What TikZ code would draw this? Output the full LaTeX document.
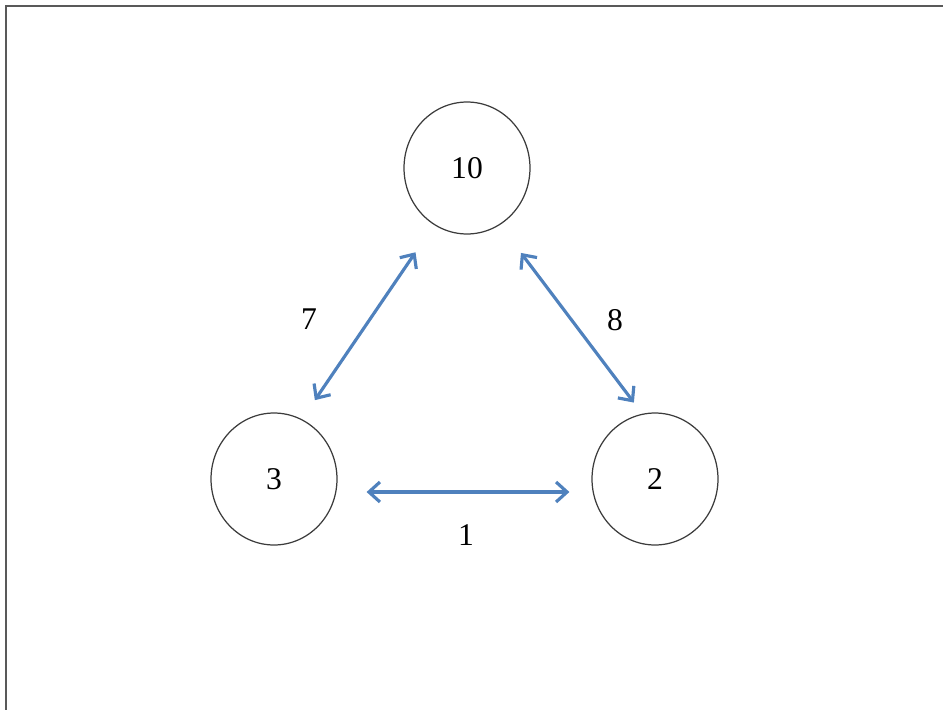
\documentclass[tikz,border=0pt]{standalone}
\usepackage{fontspec}
\setmainfont{Liberation Serif}
\usepackage{xcolor}
\usetikzlibrary{shapes.geometric, arrows.meta, positioning}
\definecolor{edgeblue}{RGB}{79,129,189}
\definecolor{ringgray}{RGB}{60,60,60}
\tikzset{
  vertexnode/.style={
    draw=ringgray, ellipse, line width=0.7pt,
    minimum width=2.52cm, minimum height=2.64cm,
    font=\fontsize{18}{21}\selectfont, fill=white
  },
  weightarrow/.style={{Straight Barb[length=2.2mm, width=4mm]}-{Straight Barb[length=2.2mm, width=4mm]}, line width=1.8pt, color=edgeblue},
  weightlabel/.style={font=\fontsize{18}{21}\selectfont},
  framerule/.style={line width=1.1pt, color=black!65},
}

\begin{document}
\begin{tikzpicture}[x=0.02cm, y=-0.02cm]
  \useasboundingbox (0,0) rectangle (943,710);

  % Frame
  \coordinate (frametl) at (6,6);
  \coordinate (frametr) at (943,6);
  \coordinate (framebl) at (6,710);
  \draw[framerule] (frametr) -- (frametl) -- (framebl);

  % Vertices
  \node[vertexnode] (ten) at (467,168) {10};
  \node[vertexnode] (three) at (274,479) {3};
  \node[vertexnode] (two) at (655,479) {2};

  % Edges
  \draw[weightarrow, shorten <=0.46cm, shorten >=0.66cm] (three.65) -- (ten.240);
  \draw[weightarrow, shorten <=0.70cm, shorten >=0.28cm] (ten.300) -- (two.101);
  \draw[weightarrow, shorten <=0.58cm, shorten >=0.44cm] ([yshift=-0.26cm]three.east) -- ([yshift=-0.26cm]two.west);

  % Weights
  \node[weightlabel] (wseven) at (309,319) {7};
  \node[weightlabel] (weight) at (615,320) {8};
  \node[weightlabel] (wone) at (466,535) {1};
\end{tikzpicture}
\end{document}
